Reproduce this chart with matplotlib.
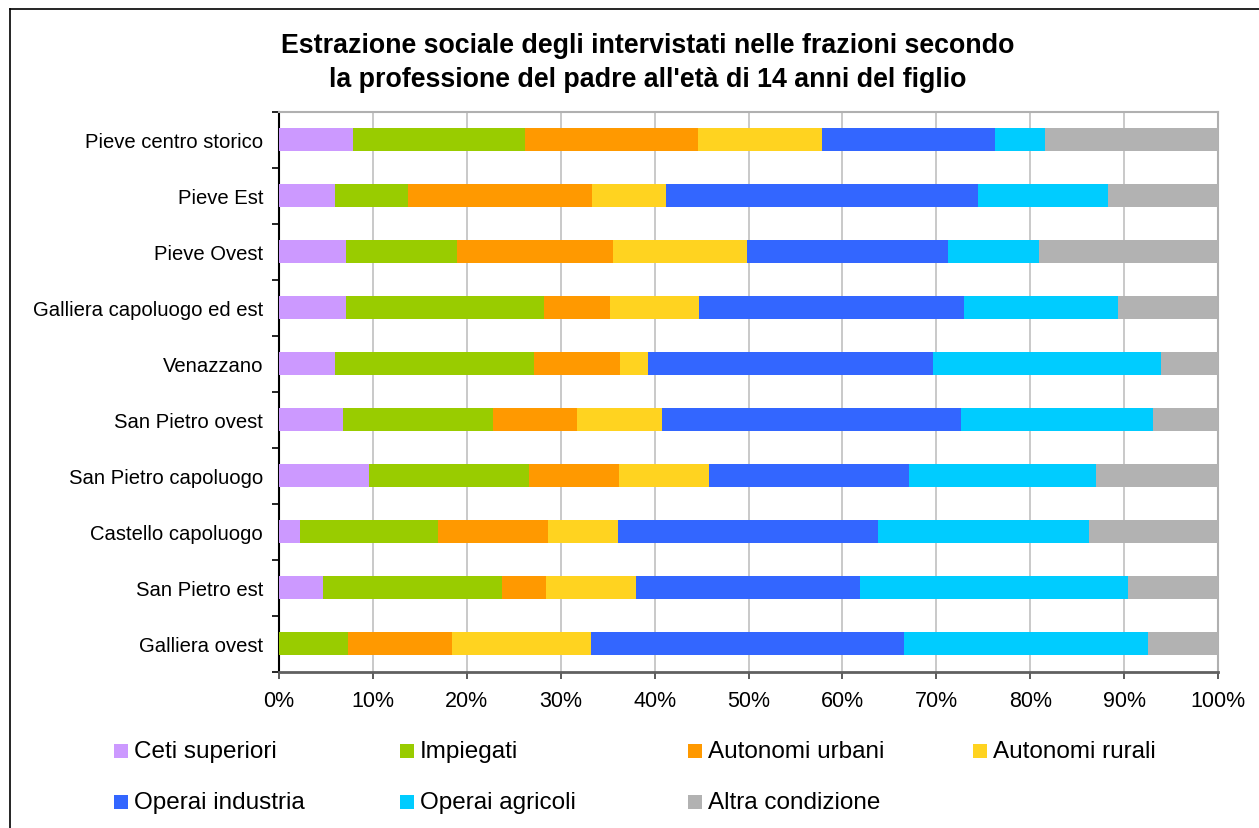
import matplotlib
matplotlib.use("Agg")
import matplotlib.pyplot as plt
from matplotlib.patches import Rectangle
from matplotlib.lines import Line2D
from matplotlib.ticker import FuncFormatter, MultipleLocator

plt.rcParams['font.family'] = ['Liberation Sans', 'DejaVu Sans']

title = "Estrazione sociale degli intervistati nelle frazioni secondo\nla professione del padre all'età di 14 anni del figlio"

categories = ["Pieve centro storico", "Pieve Est", "Pieve Ovest", "Galliera capoluogo ed est",
              "Venazzano", "San Pietro ovest", "San Pietro capoluogo", "Castello capoluogo",
              "San Pietro est", "Galliera ovest"]

series_names = ["Ceti superiori", "Impiegati", "Autonomi urbani", "Autonomi rurali",
                "Operai industria", "Operai agricoli", "Altra condizione"]
series_colors = ["#CC99FF", "#99CC00", "#FF9900", "#FFD320", "#3366FF", "#00CCFF", "#B2B2B2"]

ceti_superiori   = [7.9, 6.0, 7.1, 7.1, 6.0, 6.8, 9.6, 2.2, 4.7, 0.0]
impiegati        = [18.3, 7.7, 11.9, 21.1, 21.2, 16.0, 17.0, 14.7, 19.0, 7.3]
autonomi_urbani  = [18.4, 19.6, 16.6, 7.1, 9.1, 8.9, 9.6, 11.7, 4.7, 11.1]
autonomi_rurali  = [13.2, 7.9, 14.2, 9.4, 3.0, 9.1, 9.6, 7.5, 9.6, 14.8]
operai_industria = [18.5, 33.2, 21.4, 28.2, 30.3, 31.8, 21.3, 27.7, 23.9, 33.4]
operai_agricoli  = [5.3, 13.9, 9.7, 16.4, 24.3, 20.5, 19.9, 22.5, 28.5, 25.9]
altra_condizione = [18.4, 11.7, 19.1, 10.6, 6.1, 6.9, 13.0, 13.7, 9.6, 7.5]

series_values = [ceti_superiori, impiegati, autonomi_urbani, autonomi_rurali,
                 operai_industria, operai_agricoli, altra_condizione]

W, H = 1259, 829
fig = plt.figure(figsize=(W / 100, H / 100), dpi=100)

# outer frame
fig.add_artist(Line2D([10 / W, 10 / W], [0, 1 - 10 / H], color='black', lw=1.2))
fig.add_artist(Line2D([10 / W, 1], [1 - 10 / H, 1 - 10 / H], color='black', lw=1.2))

ax = fig.add_axes([279 / W, 1 - 672.5 / H, (1218 - 279) / W, 560 / H])

n = len(categories)
ypos = list(range(n - 1, -1, -1))
lefts = [0.0] * n
for name, color, vals in zip(series_names, series_colors, series_values):
    ax.barh(ypos, vals, left=lefts, height=0.41, color=color, label=name, zorder=3)
    lefts = [l + v for l, v in zip(lefts, vals)]

ax.set_xlim(0, 100)
ax.set_ylim(-0.5, n - 0.5)
ax.xaxis.set_major_locator(MultipleLocator(10))
ax.xaxis.set_major_formatter(FuncFormatter(lambda v, p: f"{int(round(v))}%"))
ax.set_yticks(ypos)
ax.set_yticklabels(categories)
ax.set_yticks([i + 0.5 for i in range(-1, n)], minor=True)
ax.tick_params(axis='y', which='major', length=0, pad=11.5, labelsize=14.6)
ax.tick_params(axis='y', which='minor', length=5, width=1.2, color='black', direction='out')
ax.tick_params(axis='x', which='major', length=5, width=1.2, color='#404040', pad=8, labelsize=15.5)

ax.grid(axis='x', color='#C0C0C0', lw=1.2, zorder=0)
ax.set_axisbelow(True)
ax.spines['left'].set_color('black')
ax.spines['left'].set_linewidth(1.5)
ax.spines['bottom'].set_color('#606060')
ax.spines['bottom'].set_linewidth(2)
ax.spines['top'].set_color('#B0B0B0')
ax.spines['top'].set_linewidth(1.5)
ax.spines['right'].set_color('#B0B0B0')
ax.spines['right'].set_linewidth(1.5)

fig.text(648 / W, 1 - 63 / H, title, ha='center', va='center', fontsize=19.3,
         fontweight='bold', linespacing=1.36)

# legend (row-major placement as in the reference)
leg_x = [114, 400, 688, 973]
leg_y = [752, 803]
sq = 14
for i, (name, color) in enumerate(zip(series_names, series_colors)):
    r, c = divmod(i, 4)
    x0, yc = leg_x[c], leg_y[r]
    fig.add_artist(Rectangle((x0 / W, 1 - (yc + sq / 2) / H), sq / W, sq / H,
                             transform=fig.transFigure, facecolor=color, edgecolor='none'))
    fig.text((x0 + sq + 6) / W, 1 - yc / H, name, ha='left', va='center', fontsize=17.5)

fig.savefig("out.png", dpi=100)
